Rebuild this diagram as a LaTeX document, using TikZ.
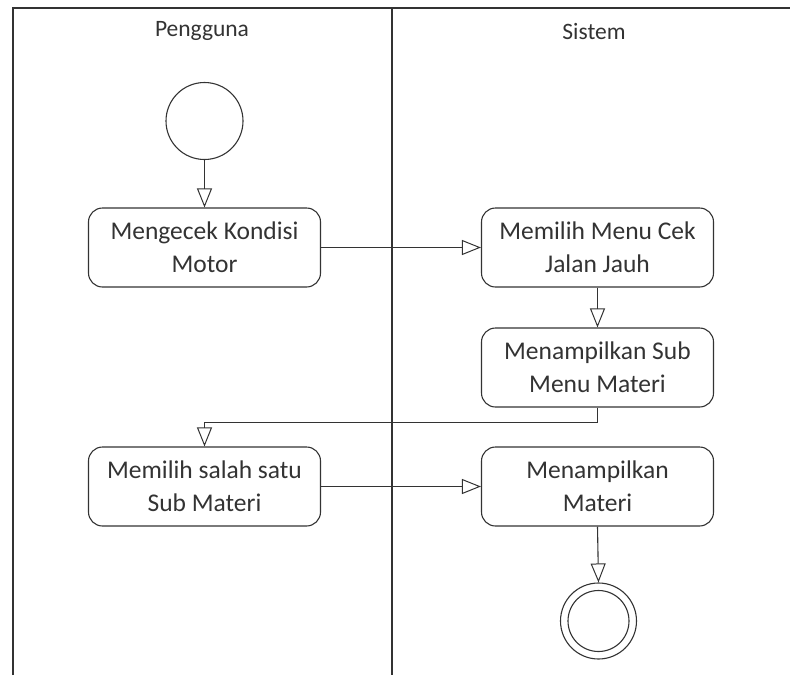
\documentclass[tikz,border=0pt]{standalone}
\usepackage{fontspec}
\setmainfont{Carlito}
\usetikzlibrary{arrows.meta}
\definecolor{ink}{HTML}{333333}
\begin{document}
\begin{tikzpicture}[x=1pt,y=-1pt,
  lane/.style={draw=ink,line width=1.3pt},
  action/.style={draw=ink,line width=1.1pt,rounded corners=14pt,
    minimum width=232pt,minimum height=79pt,align=center,
    font=\fontsize{25.5}{33}\selectfont,text=ink,inner sep=2pt},
  lanetitle/.style={font=\fontsize{23.5}{26}\selectfont,text=ink},
  flow/.style={draw=ink,line width=1.1pt,
    -{Triangle[open,length=19pt,width=15pt,line width=1pt]}},
  startnode/.style={circle,draw=ink,line width=1.1pt,minimum size=77pt,inner sep=0pt}]
  \useasboundingbox (0,0) rectangle (790,675);

  % swimlane frame
  \coordinate (tl) at (13,8);
  \coordinate (tr) at (790,8);
  \coordinate (bl) at (13,675);
  \coordinate (mt) at (392,8);
  \coordinate (mb) at (392,675);
  \draw[lane] (bl) -- (tl) -- (tr);
  \draw[lane] (mt) -- (mb);

  \node[lanetitle] (user) at (202,31) {Pengguna};
  \node[lanetitle] (sys)  at (594,31) {Sistem};

  % activities
  \node[startnode] (start) at (204.5,121) {};
  \node[action] (cek)   at (204.5,247.5) {Mengecek Kondisi\\Motor};
  \node[action] (menu)  at (597.5,247.5) {Memilih Menu Cek\\Jalan Jauh};
  \node[action] (sub)   at (597.5,367.5) {Menampilkan Sub\\Menu Materi};
  \node[action] (pilih) at (204.5,486.5) {Memilih salah satu\\Sub Materi};
  \node[action] (materi) at (597.5,486.5) {Menampilkan\\Materi};

  % final node
  \node[circle,draw=ink,line width=1.1pt,minimum size=76pt,inner sep=0pt] (end) at (598.5,621) {};
  \node[circle,draw=ink,line width=1.1pt,minimum size=61pt,inner sep=0pt] (endin) at (598.5,621) {};

  % transitions
  \draw[flow] (start) -- (cek);
  \draw[flow] (cek) -- (menu);
  \draw[flow] (menu) -- (sub);
  \coordinate (bend1) at (597.5,422.5);
  \coordinate (bend2) at (204.5,422.5);
  \draw[flow] (sub.south) -- (bend1) -- (bend2) -- (pilih.north);
  \draw[flow] (pilih) -- (materi);
  \draw[flow] (materi.south) -- (end.north);
\end{tikzpicture}
\end{document}
